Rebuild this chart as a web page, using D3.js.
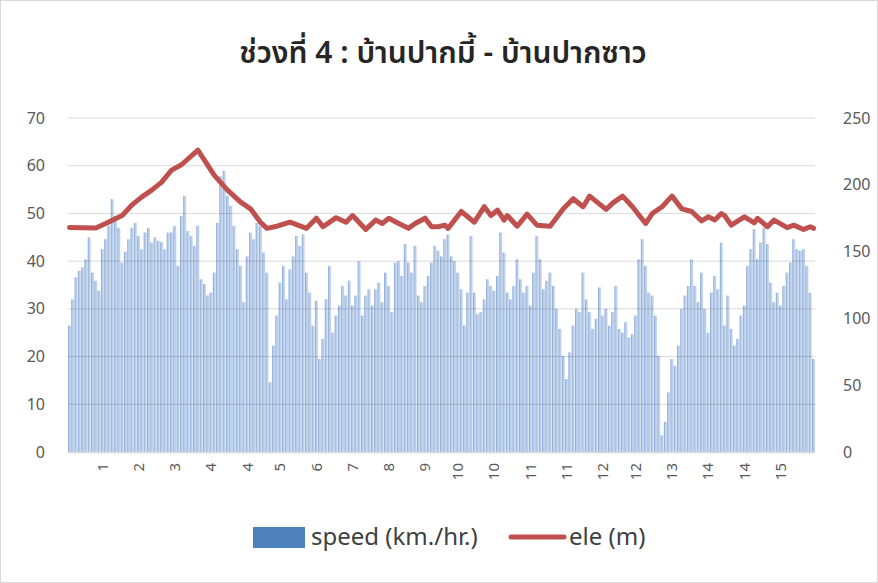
<!DOCTYPE html>
<html>

<head>
  <meta charset="utf-8">
  <title>ช่วงที่ 4</title>
  <style>
    body { margin: 0; background: #fff; }
    text { font-family: "Noto Sans Thai", "Leelawadee UI", Tahoma, "Noto Sans", "DejaVu Sans", sans-serif; }
  </style>
</head>

<body>
  <svg id="chart"></svg>

  <script src="https://cdn.jsdelivr.net/npm/d3@7"></script>
  <script>
    // speed (km./hr.) for each sample left to right
    const speed = [
      26.5, 32, 36.6, 38, 38.7, 40.4, 45, 37.6, 35.9, 33.8,
      42.5, 44.6, 47.4, 53, 49.5, 47, 39.7, 42, 44.6, 47,
      48, 45.3, 42.5, 46, 47, 43.9, 45, 44.3, 44, 42.5,
      46, 46, 47.4, 39, 49.5, 53.7, 46.3, 45.3, 43.2, 47.4,
      36.2, 35.2, 32.8, 33.4, 37.6, 48, 57.8, 58.9, 53.7, 51.6,
      47.4, 42.5, 39, 31.4, 41, 46, 44.6, 48,
      47.4, 41.8, 37.6, 14.6, 22.3, 28.6, 35.5, 39, 32, 38.3,
      41, 45.3, 43.2, 45.6, 37.6, 33.4, 26.5, 31.7, 19.5, 23.7,
      32, 39, 25, 28.6, 30.7, 34.8, 32.8, 35.9, 30.7, 32.8,
      40, 28.6, 32.8, 34.1, 30.7, 34.1, 35.5, 31.4, 37.6, 34.8,
      29.3, 39.7, 40, 36.9, 43.6, 39.7, 37.6, 43.2, 32.8, 31.4,
      34.8, 36.9, 39.7, 43.2, 42.2, 41, 44.6, 45.6,
      41, 40, 37.6, 34.1, 26.5, 33.4, 45.3, 33.4, 28.9, 29.3,
      32, 36.2, 34.8, 33.8, 36.9, 46, 41.8, 33.4, 32, 34.8,
      40.4, 36.2, 33.4, 34.8, 30.7, 37.6, 45.3, 40.4, 34.1, 35.9,
      37.6, 34.8, 30, 25.8, 20.2, 15.3, 20.9, 26.5, 30, 29.3,
      37.6, 32, 29.3, 25.8, 27.9, 34.5, 28.6, 30, 26.5, 29.3,
      34.8, 25.8, 25, 27.2, 24, 24.7, 28.6,
      40.4, 44.6, 39, 33.4, 32.8, 28.6, 20.2, 3.5, 6.3, 12.5,
      19.5, 18.1, 22.3, 30, 32.8, 34.8, 40.4, 34.8, 31.4, 37.6,
      30, 25, 33.4, 36.9, 34.1, 43.9, 26.5, 32.8, 25.8, 22.3,
      23.7, 28.6, 30.7, 39, 42.5, 46.7, 40.4, 43.9, 47, 43.6,
      35.5, 31.4, 33.4, 30.7, 34.8, 37.6, 39.7, 44.6, 42.5, 42.2,
      42.5, 39, 33.4, 19.5
    ];

    // elevation (m), sample index where each reading sits
    const eleAt = [
      0, 8, 11, 16, 19, 22, 25, 28, 31, 34, 39, 44, 48, 52, 55, 58, 60, 63, 67, 72,
      75, 77, 81, 84, 86, 90, 93, 95, 97, 100, 103, 105, 108, 110, 112, 114, 115, 119, 123, 126,
      128, 130, 132, 133, 136, 139, 142, 146, 150, 153, 156, 158, 163, 165, 168, 171, 175, 177, 180, 183,
      186, 189, 192, 194, 196, 198, 199, 201, 205, 208, 209, 212, 214, 218, 220, 223, 225, 226
    ];
    const ele = [
      168, 167.6, 171, 177, 185, 191, 196, 202, 211, 215, 226, 207, 196, 187, 182, 172, 167.4, 169, 172, 167.4,
      175, 168.6, 175.4, 172, 177, 166.6, 173.6, 171, 175, 171, 167.4, 171, 175, 168.6, 168.6, 169.8, 167.4, 180, 172, 183.6,
      177, 181, 173.6, 177, 169, 178, 169.8, 169, 182, 189.6, 183.6, 191.5, 181.6, 186.3, 191.5, 183.6, 171, 178.5, 183.6, 191.5,
      182, 180, 173, 176, 173.6, 178.5, 177, 169.8, 176, 171.5, 174.9, 168.6, 173.6, 167.9, 169.8, 166.6, 168.6, 167.4
    ];

    // category labels shown under the axis (km)
    const xLabels = ["1", "2", "3", "4", "4", "5", "6", "7", "8", "9", "10", "10", "11", "11", "12", "12", "13", "14", "14", "15"];
    const leftTicks = [0, 10, 20, 30, 40, 50, 60, 70];
    const rightTicks = [0, 50, 100, 150, 200, 250];

    const W = 878, H = 583;
    const margin = { top: 118, right: 63, bottom: 131, left: 68 };
    const width = W - margin.left - margin.right;
    const height = H - margin.top - margin.bottom;

    const svg = d3.select("#chart").attr("width", W).attr("height", H);

    svg.append("rect")
      .attr("x", 0.5).attr("y", 0.5)
      .attr("width", W - 1).attr("height", H - 1)
      .attr("fill", "#fff").attr("stroke", "#d9d9d9");

    const defs = svg.append("defs");
    const grad = defs.append("linearGradient").attr("id", "barfill")
      .attr("x1", "0").attr("x2", "1").attr("y1", "0").attr("y2", "0");
    grad.append("stop").attr("offset", "0").attr("stop-color", "#7c9fd2");
    grad.append("stop").attr("offset", "0.4").attr("stop-color", "#b6cbe8");
    grad.append("stop").attr("offset", "1").attr("stop-color", "#c9d9ee");

    const g = svg.append("g").attr("transform", `translate(${margin.left},${margin.top})`);

    const idx = d3.range(speed.length);
    const x = d3.scaleBand().domain(idx).range([0, width]).paddingInner(0.1);
    const y = d3.scaleLinear().domain([0, 70]).range([height, 0]);
    const y2 = d3.scaleLinear().domain([0, 250]).range([height, 0]);

    // bars
    g.append("g").selectAll("rect")
      .data(speed)
      .join("rect")
      .attr("x", (d, i) => x(i))
      .attr("y", d => y(d))
      .attr("width", x.bandwidth())
      .attr("height", d => y(0) - y(d))
      .attr("fill", "url(#barfill)");

    // gridlines on top, translucent so they read darker over the bars
    g.append("g").selectAll("line")
      .data(leftTicks.filter(t => t > 0))
      .join("line")
      .attr("x1", 0).attr("x2", width)
      .attr("y1", d => y(d)).attr("y2", d => y(d))
      .attr("stroke", "rgba(0,0,0,0.15)");

    g.append("line")
      .attr("x1", 0).attr("x2", width)
      .attr("y1", height + 0.5).attr("y2", height + 0.5)
      .attr("stroke", "#d9d9d9").attr("stroke-width", 1.5);

    // left axis
    const yAxis = g.append("g")
      .call(d3.axisLeft(y).tickValues(leftTicks).tickSize(0).tickPadding(23));
    yAxis.select(".domain").remove();
    yAxis.selectAll("text").attr("font-size", 16).attr("fill", "#595959");

    // right axis
    const yAxis2 = g.append("g").attr("transform", `translate(${width},0)`)
      .call(d3.axisRight(y2).tickValues(rightTicks).tickSize(0).tickPadding(28));
    yAxis2.select(".domain").remove();
    yAxis2.selectAll("text").attr("font-size", 16).attr("fill", "#595959");

    // x axis labels, rotated
    const tickIdx = xLabels.map((l, k) => Math.round((k + 1) * speed.length / 21 - 0.5));
    const xAxis = g.append("g").attr("transform", `translate(0,${height})`)
      .call(d3.axisBottom(x).tickValues(tickIdx).tickFormat((d, k) => xLabels[k]).tickSize(0));
    xAxis.select(".domain").remove();
    xAxis.selectAll("text")
      .attr("font-size", 15).attr("fill", "#595959")
      .attr("transform", "rotate(-90)")
      .attr("text-anchor", "end")
      .attr("x", -11).attr("y", 0).attr("dy", "0.35em");

    // elevation line
    const line = d3.line()
      .x((d, i) => x(eleAt[i]) + x.bandwidth() / 2)
      .y(d => y2(d))
      .curve(d3.curveLinear);
    g.append("path")
      .datum(ele)
      .attr("d", line)
      .attr("fill", "none")
      .attr("stroke", "#c0504d")
      .attr("stroke-width", 5)
      .attr("stroke-linejoin", "round")
      .attr("stroke-linecap", "round");

    // title
    svg.append("text")
      .attr("x", W / 2 + 4).attr("y", 63)
      .attr("text-anchor", "middle")
      .attr("font-size", 30).attr("font-weight", 600).attr("fill", "#262626")
      .text("ช่วงที่ 4 : บ้านปากมี้ - บ้านปากซาว");

    // legend
    const lg = svg.append("g");
    lg.append("rect").attr("x", 253).attr("y", 527).attr("width", 52).attr("height", 21).attr("fill", "#4f81bd");
    lg.append("text").attr("x", 311).attr("y", 537).attr("dy", "0.35em")
      .attr("font-size", 24).attr("fill", "#404040").text("speed (km./hr.)");
    lg.append("line").attr("x1", 511).attr("x2", 564).attr("y1", 537).attr("y2", 537)
      .attr("stroke", "#c0504d").attr("stroke-width", 5).attr("stroke-linecap", "round");
    lg.append("text").attr("x", 569).attr("y", 537).attr("dy", "0.35em")
      .attr("font-size", 24).attr("fill", "#404040").text("ele (m)");
  </script>
</body>

</html>
